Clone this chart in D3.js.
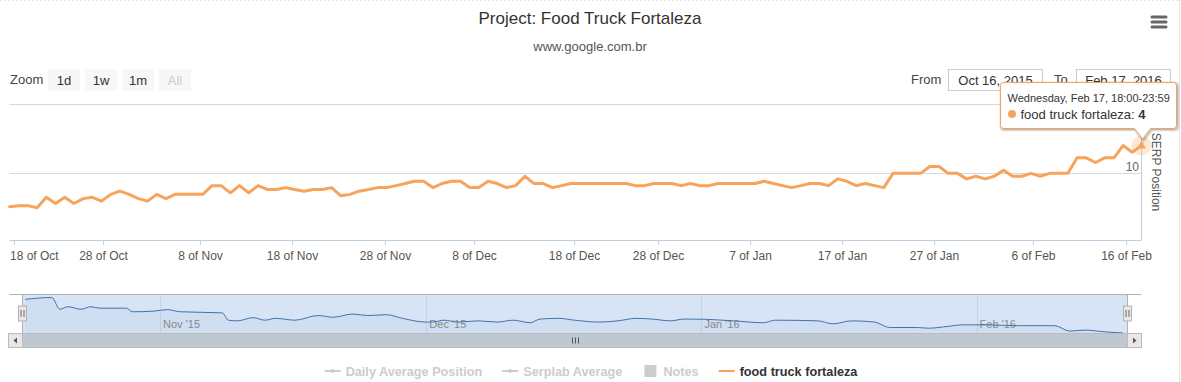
<!DOCTYPE html>
<html>
<head>
<meta charset="utf-8">
<script src="https://cdn.jsdelivr.net/npm/d3@7"></script>
<style>
  html, body { margin: 0; padding: 0; background: #fff; }
  svg { display: block; font-family: "Liberation Sans", Arial, sans-serif; }
</style>
</head>
<body>
<svg id="chart" width="1181" height="382"></svg>
<script>
// ---------------- DATA ----------------
const chartTitle = "Project: Food Truck Fortaleza";
const chartSubtitle = "www.google.com.br";
const seriesName = "food truck fortaleza";

// SERP position of "food truck fortaleza", one value per point (ordinal axis)
const positions = [
  30, 29, 29, 31, 22, 27, 22, 27, 23, 22, 25, 20, 18, 20, 23, 25, 20, 23, 20, 20, 20, 20,
  15, 15, 19, 15, 19, 15, 17, 17, 16, 17, 18, 17, 17, 16,
  21, 20, 18, 17, 16, 16, 15, 14, 13, 13,
  16, 14, 13, 13, 16, 16, 13, 14, 16, 15, 11, 14, 14, 16, 15,
  14, 14, 14, 14, 14, 14, 14,
  15, 15, 14, 14, 14, 15, 14, 15, 15, 14, 14, 14, 14, 14, 13, 14,
  15, 16, 15, 14, 14, 15, 12, 13, 15, 14, 15, 16,
  10, 10, 10, 10, 8, 8, 10, 10,
  12, 11, 12, 11, 9, 11, 11, 10, 11, 10, 10, 10,
  6, 6, 7, 6, 6, 4, 5, 4
];

// x-axis tick labels and the (ordinal) point position where each sits
const xTickLabels = ["18 of Oct", "28 of Oct", "8 of Nov", "18 of Nov", "28 of Nov", "8 of Dec",
  "18 of Dec", "28 of Dec", "7 of Jan", "17 of Jan", "27 of Jan", "6 of Feb", "16 of Feb"];
const xTickAt = [0.5, 10.2, 20.7, 30.7, 40.8, 50.5, 61.3, 70.5, 80.5, 90.5, 100.4, 111.2, 121.3];

const yTickValues = [1, 10, 100];
const yLabelValues = [10];          // the label of 1 is hidden behind the tooltip
const yDomain = [1, 90];

// navigator series: days after the navigator start and value
const navStart = new Date(2015, 9, 16, 12);
const navEnd = new Date(2016, 1, 18, 0);
const navDays = [0.3, 3.3, 4.2, 5.1, 6.6, 7.7, 8.7, 11.7, 12.4, 14.8, 16.3, 17.8, 22.5, 23.2, 24.2, 26,
  27.3, 28.5, 30.7, 33.3, 35, 37.2, 38.9, 41, 42.8, 45.4, 46.2, 47.5, 49, 51.4, 53.5, 55.3, 57.2,
  58.3, 60.4, 62.2, 65, 67.1, 69.1, 71, 73, 74.5, 75.8, 80.1, 83.5, 84.8, 89.6, 91.3, 93.4, 96,
  97.7, 100.8, 102.1, 104.2, 105.9, 108.5, 112, 116.3, 118, 119.7, 121.9, 124];
const navValues = [29.2, 30.6, 21.8, 23.7, 21.8, 23.7, 22.6, 22.6, 19.9, 20.4, 21.5, 19.9, 19.1, 13.6,
  13.1, 15.5, 13.6, 15, 13.6, 17.1, 15.8, 18.2, 17.1, 17.7, 15, 12.2, 12.2, 13.6, 12.2, 13.1, 12.2,
  13.6, 11.7, 14.4, 15, 13.6, 12.2, 13.1, 15, 14.4, 13.1, 14.4, 14.4, 13.1, 11.7, 13.6, 13.1, 10.9,
  13.1, 12.2, 8.1, 8.1, 7.6, 8.9, 10.1, 10.1, 9.5, 9.5, 5.4, 6.2, 4.9, 4];
const navTickDates = [new Date(2015, 10, 1), new Date(2015, 11, 1), new Date(2016, 0, 1), new Date(2016, 1, 1)];
const navTickLabels = ["Nov '15", "Dec '15", "Jan '16", "Feb '16"];

const zoomButtons = ["1d", "1w", "1m", "All"];
const fromDate = "Oct 16, 2015";
const toDate = "Feb 17, 2016";

const legendNames = ["Daily Average Position", "Serplab Average", "Notes", "food truck fortaleza"];
const legendTypes = ["linemarker", "linemarker", "square", "line"];
const legendVisible = [false, false, false, true];

const tooltipHeader = "Wednesday, Feb 17, 18:00-23:59";

// ---------------- STYLE / LAYOUT ----------------
const W = 1181, H = 382;
const plot = { left: 9.5, right: 1141.5, top: 103.5, bottom: 240 };
const orange = "#f7a35c";
const axisColor = "#c0d0e0";

const svg = d3.select("#chart");
svg.append("rect").attr("width", W).attr("height", H).attr("fill", "#fff");
svg.append("line").attr("x1", 0).attr("x2", W).attr("y1", 0.5).attr("y2", 0.5)
  .attr("stroke", "#e6e6e6").attr("stroke-dasharray", "2,2");
svg.append("line").attr("x1", 1179.5).attr("x2", 1179.5).attr("y1", 0).attr("y2", H)
  .attr("stroke", "#e3e3e3");

// Title / subtitle
svg.append("text").attr("x", 590).attr("y", 24).attr("text-anchor", "middle")
  .attr("font-size", 17).attr("fill", "#333").text(chartTitle);
svg.append("text").attr("x", 590).attr("y", 51).attr("text-anchor", "middle")
  .attr("font-size", 13).attr("fill", "#555").text(chartSubtitle);

// Menu icon
[17, 22, 27].forEach(yy => {
  svg.append("line").attr("x1", 1152).attr("x2", 1166).attr("y1", yy).attr("y2", yy)
    .attr("stroke", "#666").attr("stroke-width", 3).attr("stroke-linecap", "round");
});

// Range selector
svg.append("text").attr("x", 10).attr("y", 84).attr("font-size", 13).attr("fill", "#444").text("Zoom");
const btn = svg.append("g").selectAll("g").data(zoomButtons).join("g")
  .attr("transform", (d, i) => `translate(${48 + i * 37},69)`);
btn.append("rect").attr("width", 32).attr("height", 22).attr("fill", "#f7f7f7");
btn.append("text").attr("x", 16).attr("y", 15.5).attr("text-anchor", "middle")
  .attr("font-size", 13).attr("fill", d => d === "All" ? "#ccc" : "#333").text(d => d);

svg.append("text").attr("x", 911).attr("y", 84).attr("font-size", 13).attr("fill", "#444").text("From");
svg.append("rect").attr("x", 948.5).attr("y", 69.5).attr("width", 94).attr("height", 21)
  .attr("fill", "#fff").attr("stroke", "#ccc");
svg.append("text").attr("x", 995.5).attr("y", 84.5).attr("text-anchor", "middle")
  .attr("font-size", 13).attr("fill", "#333").text(fromDate);
svg.append("text").attr("x", 1054).attr("y", 84).attr("font-size", 13).attr("fill", "#444").text("To");
svg.append("rect").attr("x", 1076.5).attr("y", 69.5).attr("width", 94).attr("height", 21)
  .attr("fill", "#fff").attr("stroke", "#ccc");
svg.append("text").attr("x", 1123.5).attr("y", 84.5).attr("text-anchor", "middle")
  .attr("font-size", 13).attr("fill", "#333").text(toDate);

// Scales
const x = d3.scaleLinear().domain([0, positions.length - 1]).range([plot.left, plot.right]);
const y = d3.scaleLog().domain(yDomain).range([plot.top, plot.bottom]);

// Grid lines
const yt = yTickValues.filter(v => v >= yDomain[0] && v <= yDomain[1]);
svg.append("g").selectAll("line").data(yt).join("line")
  .attr("x1", plot.left).attr("x2", plot.right)
  .attr("y1", d => Math.round(y(d)) + 0.5).attr("y2", d => Math.round(y(d)) + 0.5)
  .attr("stroke", "#d8d8d8");
svg.append("g").selectAll("text").data(yLabelValues).join("text")
  .attr("x", 1139).attr("y", d => y(d) - 2).attr("text-anchor", "end")
  .attr("font-size", 12).attr("fill", "#666").text(d => d);

// Right axis line
svg.append("line").attr("x1", plot.right).attr("x2", plot.right)
  .attr("y1", plot.top).attr("y2", plot.bottom).attr("stroke", axisColor);
svg.append("text").attr("transform", `translate(1152,172) rotate(90)`)
  .attr("text-anchor", "middle").attr("font-size", 12).attr("fill", "#555").text("SERP Position");

// X axis
svg.append("line").attr("x1", plot.left).attr("x2", plot.right)
  .attr("y1", plot.bottom + 0.5).attr("y2", plot.bottom + 0.5).attr("stroke", axisColor);
const xg = svg.append("g");
xTickLabels.forEach((lab, i) => {
  const tx = Math.round(x(xTickAt[i])) + 0.5;
  xg.append("line").attr("x1", tx).attr("x2", tx).attr("y1", plot.bottom).attr("y2", plot.bottom + 5)
    .attr("stroke", axisColor);
  const t = xg.append("text").attr("x", tx).attr("y", 260).attr("text-anchor", "middle")
    .attr("font-size", 12).attr("fill", "#555").text(lab);
  const w = t.node().getComputedTextLength();
  if (tx - w / 2 < 10) t.attr("x", 10 + w / 2);
});

// Series line
const line = d3.line().x((d, i) => x(i)).y(d => y(d));
svg.append("path").datum(positions).attr("d", line)
  .attr("fill", "none").attr("stroke", orange).attr("stroke-width", 3)
  .attr("stroke-linejoin", "round").attr("stroke-linecap", "round");

// Hover halo + marker on last point
const li = positions.length - 1;
svg.append("circle").attr("cx", x(li)).attr("cy", y(positions[li])).attr("r", 10)
  .attr("fill", orange).attr("opacity", 0.25);
svg.append("path").attr("d", d3.symbol(d3.symbolTriangle).size(34)())
  .attr("transform", `translate(${x(li)},${y(positions[li]) + 0.5})`).attr("fill", orange);

// ---------------- NAVIGATOR ----------------
const nav = { left: 9.5, right: 1141.5, top: 294.5, bottom: 333.5, selL: 22.5, selR: 1127.5 };
const nx = d3.scaleTime().domain([navStart, navEnd]).range([nav.selL, nav.selR]);
const navData = navDays.map((d, i) => ({ t: new Date(+navStart + d * 864e5), v: navValues[i] }));
const ny = d3.scaleLinear().domain(d3.extent(navValues)).range([333, 297.5]);

svg.append("rect").attr("x", nav.selL).attr("y", nav.top).attr("width", nav.selR - nav.selL)
  .attr("height", nav.bottom - nav.top).attr("fill", "#d6e4f5");
svg.append("g").selectAll("line").data(navTickDates).join("line")
  .attr("x1", d => Math.round(nx(d)) + 0.5).attr("x2", d => Math.round(nx(d)) + 0.5)
  .attr("y1", nav.top).attr("y2", nav.bottom).attr("stroke", "#c4d4e8");
svg.append("g").selectAll("text").data(navTickDates).join("text")
  .attr("x", d => nx(d) + 3).attr("y", 328).attr("font-size", 11).attr("fill", "#8a8a8a")
  .text((d, i) => navTickLabels[i]);

const navArea = d3.area().x(d => nx(d.t)).y0(nav.bottom).y1(d => ny(d.v)).curve(d3.curveMonotoneX);
const navLine = d3.line().x(d => nx(d.t)).y(d => ny(d.v)).curve(d3.curveMonotoneX);
svg.append("path").datum(navData).attr("d", navArea).attr("fill", "rgba(69,114,167,0.05)");
svg.append("path").datum(navData).attr("d", navLine).attr("fill", "none")
  .attr("stroke", "#4572a7").attr("stroke-width", 1);

svg.append("path")
  .attr("d", `M${nav.left},${nav.top}H${nav.right}M${nav.selL},${nav.top}V${nav.bottom}M${nav.selR},${nav.top}V${nav.bottom}`)
  .attr("fill", "none").attr("stroke", "#b2b1b6");

[nav.selL, nav.selR].forEach(hx => {
  const g = svg.append("g").attr("transform", `translate(${hx},306)`);
  g.append("rect").attr("x", -4).attr("y", 0).attr("width", 8).attr("height", 15)
    .attr("fill", "#ebe7e8").attr("stroke", "#b1b1b1");
  g.append("path").attr("d", "M-1.5,4V11M1.5,4V11").attr("stroke", "#666");
});

// scrollbar
const sbTop = 333.5, sbH = 14;
svg.append("rect").attr("x", nav.left).attr("y", sbTop).attr("width", nav.right - nav.left)
  .attr("height", sbH).attr("fill", "#eeeeee").attr("stroke", "#eeeeee");
svg.append("rect").attr("x", nav.selL).attr("y", sbTop).attr("width", nav.selR - nav.selL)
  .attr("height", sbH).attr("fill", "#bfc8d1").attr("stroke", "#bbbbbb");
const gx = Math.round((nav.selL + nav.selR) / 2) + 0.5;
svg.append("path").attr("d", `M${gx - 3},${sbTop + 4}V${sbTop + 10}M${gx},${sbTop + 4}V${sbTop + 10}M${gx + 3},${sbTop + 4}V${sbTop + 10}`)
  .attr("stroke", "#555");
[[nav.left - 1, -1], [nav.selR, 1]].forEach(([bx, dir]) => {
  svg.append("rect").attr("x", bx).attr("y", sbTop).attr("width", 14).attr("height", sbH)
    .attr("fill", "#ebe7e8").attr("stroke", "#bbbbbb");
  const cx = bx + 7, cy = sbTop + 7;
  svg.append("path").attr("d", `M${cx + 2 * dir},${cy}L${cx - 1.5 * dir},${cy - 3}L${cx - 1.5 * dir},${cy + 3}Z`)
    .attr("fill", "#555");
});

// ---------------- LEGEND ----------------
const lg = svg.append("g");
const itemGroups = [];
let cursor = 0;
legendNames.forEach((name, i) => {
  const g = lg.append("g");
  const vis = legendVisible[i], type = legendTypes[i];
  const col = vis ? "#333" : "#cccccc";
  const symCol = vis ? orange : "#cccccc";
  if (type === "square") {
    g.append("rect").attr("x", 2).attr("y", -6).attr("width", 12).attr("height", 12).attr("fill", symCol);
  } else {
    g.append("line").attr("x1", 0).attr("x2", 16).attr("y1", 0).attr("y2", 0)
      .attr("stroke", symCol).attr("stroke-width", 2);
    if (type === "linemarker") g.append("circle").attr("cx", 8).attr("cy", 0).attr("r", 2).attr("fill", symCol);
  }
  const t = g.append("text").attr("x", 21).attr("y", 4.5)
    .attr("font-size", 12.7).attr("font-weight", "bold").attr("fill", col).text(name);
  const w = 21 + t.node().getComputedTextLength();
  itemGroups.push({ g, x: cursor });
  cursor += w + 20;
});
const totalW = cursor - 20;
const startX = 591 - totalW / 2;
itemGroups.forEach(o => o.g.attr("transform", `translate(${startX + o.x},371)`));

// ---------------- TOOLTIP ----------------
const tipX = 1000.5, tipY = 82.5, tipW = 176, tipH = 46;
const ax = Math.round(x(li)) + 0.5, ay = 139;
const tipPath = `M${tipX + 3},${tipY}H${tipX + tipW - 3}Q${tipX + tipW},${tipY} ${tipX + tipW},${tipY + 3}` +
  `V${tipY + tipH - 3}Q${tipX + tipW},${tipY + tipH} ${tipX + tipW - 3},${tipY + tipH}` +
  `H${ax + 8}L${ax},${ay}L${ax - 8},${tipY + tipH}H${tipX + 3}Q${tipX},${tipY + tipH} ${tipX},${tipY + tipH - 3}` +
  `V${tipY + 3}Q${tipX},${tipY} ${tipX + 3},${tipY}Z`;
const tip = svg.append("g");
[[5, 0.05], [3, 0.1], [1, 0.15]].forEach(([sw, op]) => {
  tip.append("path").attr("d", tipPath).attr("transform", "translate(1,1)")
    .attr("fill", "none").attr("stroke", "#000").attr("stroke-opacity", op).attr("stroke-width", sw);
});
tip.append("path").attr("d", tipPath).attr("fill", "rgba(255,255,255,0.96)").attr("stroke", orange);
tip.append("text").attr("x", tipX + 7).attr("y", tipY + 19).attr("font-size", 11).attr("fill", "#333")
  .text(tooltipHeader);
tip.append("circle").attr("cx", tipX + 11.5).attr("cy", tipY + 31.5).attr("r", 4).attr("fill", orange);
const t2 = tip.append("text").attr("x", tipX + 20).attr("y", tipY + 36).attr("font-size", 13).attr("fill", "#333");
t2.append("tspan").text(seriesName + ": ");
t2.append("tspan").attr("font-weight", "bold").text(positions[li]);
</script>
</body>
</html>
